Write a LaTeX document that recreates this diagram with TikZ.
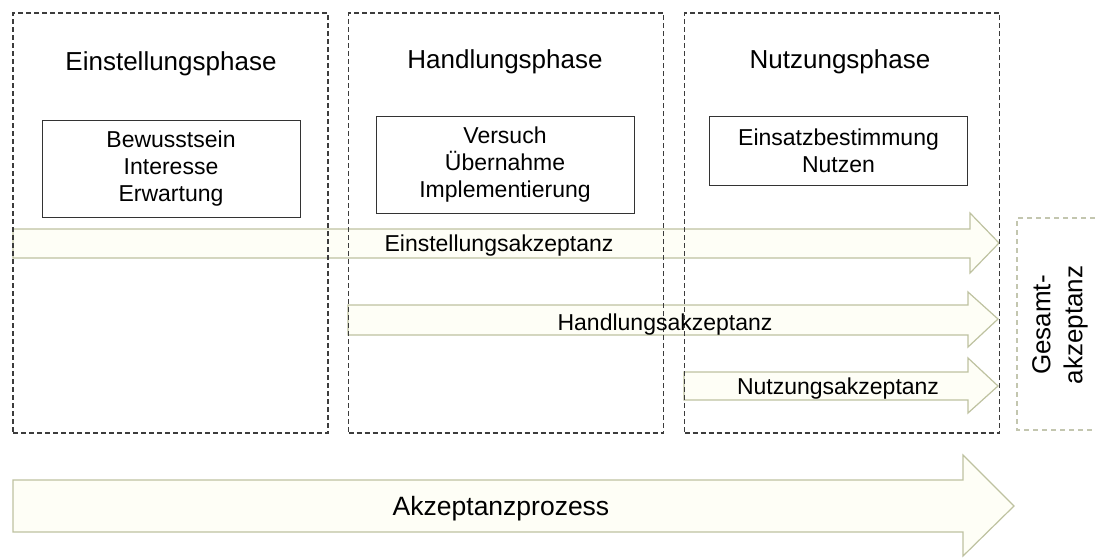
\documentclass[tikz,border=0pt]{standalone}
\usepackage{fontspec}
\setmainfont{Liberation Sans}
\usetikzlibrary{positioning}
\definecolor{rahmengrau}{RGB}{60,60,60}
\definecolor{pfeilrand}{RGB}{190,194,160}
\definecolor{pfeilfill}{RGB}{254,254,246}
\definecolor{gesamtrand}{RGB}{195,198,175}
\tikzset{
  phase/.style={draw=rahmengrau, line width=1.5pt, dash pattern=on 5pt off 3pt,
    minimum width=315pt, minimum height=420pt, inner sep=0pt},
  titel/.style={font=\fontsize{26}{30}\selectfont},
  stufen/.style={draw=black!80, line width=1pt, fill=white, align=center,
    minimum width=258pt, inner sep=0pt, font=\fontsize{23}{27}\selectfont},
  akzpfeil/.style={draw=pfeilrand, fill=pfeilfill, line width=1.2pt, line join=miter},
  akzlabel/.style={font=\fontsize{23}{27}\selectfont, inner sep=0pt}
}
\begin{document}
\begin{tikzpicture}[x=1pt,y=-1pt]
\useasboundingbox (0,0) rectangle (1095,558);
%\clip (0,0) rectangle (1095,558);
% block arrows first, the dashed frames lie on top
\filldraw[akzpfeil] (13,229) -- (970,229) -- (970,213) -- (999,243) -- (970,273) -- (970,258) -- (13,258) -- cycle;
\filldraw[akzpfeil] (348,305) -- (968,305) -- (968,292) -- (998,319) -- (968,347) -- (968,335) -- (348,335) -- cycle;
\filldraw[akzpfeil] (684,372) -- (968,372) -- (968,358) -- (998,386) -- (968,413) -- (968,400) -- (684,400) -- cycle;
\filldraw[akzpfeil] (13,480) -- (963,480) -- (963,455) -- (1014,506) -- (963,556) -- (963,532) -- (13,532) -- cycle;
\path
(170.5,223) node[phase] (einst) {}
(506,223) node[phase] (handl) {}
(842,223) node[phase] (nutz) {}
(171,64) node[titel] (einstT) {Einstellungsphase}
(505,62) node[titel] (handlT) {Handlungsphase}
(840,62) node[titel] (nutzT) {Nutzungsphase}
(171,168.5) node[stufen, minimum height=97pt] (einstS) {Bewusstsein\\Interesse\\Erwartung}
(505,164.5) node[stufen, minimum height=97pt] (handlS) {Versuch\\Übernahme\\Implementierung}
(838.5,150.5) node[stufen, minimum height=69pt] (nutzS) {Einsatzbestimmung\\Nutzen}
(499,246) node[akzlabel] (einstA) {Einstellungsakzeptanz}
(665,325) node[akzlabel] (handlA) {Handlungsakzeptanz}
(838,389) node[akzlabel] (nutzA) {Nutzungsakzeptanz}
(501,509) node[font=\fontsize{26.5}{30}\selectfont, inner sep=0pt] (prozess) {Akzeptanzprozess}
(1060,325) node[rotate=90, align=center, inner sep=0pt,
  font=\fontsize{26}{32}\selectfont] (gesamt) {Gesamt-\\akzeptanz};
\draw[gesamtrand, line width=1.2pt, dash pattern=on 5pt off 4pt]
  (1095,218) -| (1017,430) -- (1095,430);
\end{tikzpicture}
\end{document}
